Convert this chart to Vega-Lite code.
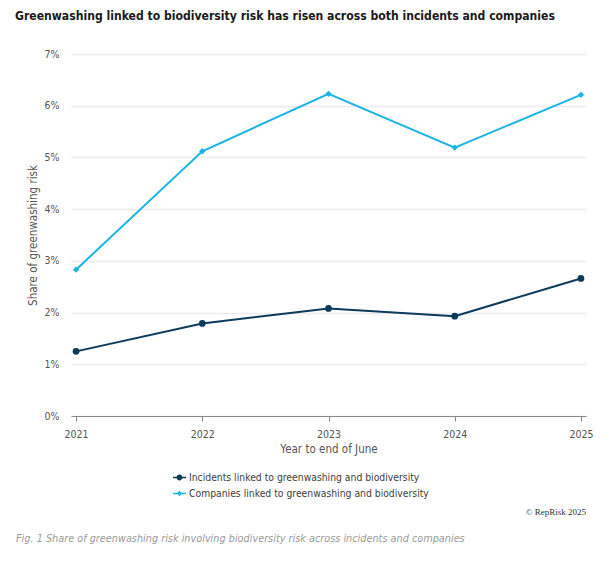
{
  "$schema": "https://vega.github.io/schema/vega-lite/v6.json",
  "background": "white",
  "padding": {"left": 15, "top": 9, "right": 5, "bottom": 5},
  "title": {
    "text": "Greenwashing linked to biodiversity risk has risen across both incidents and companies",
    "anchor": "start",
    "font": "DejaVu Sans Condensed",
    "fontSize": 12.1,
    "fontWeight": "bold",
    "color": "#1a1a1a",
    "offset": 27,
    "dx": -1
  },
  "data": {
    "values": [
      {"year": 2021, "series": "Incidents linked to greenwashing and biodiversity", "value": 0.0125},
      {"year": 2022, "series": "Incidents linked to greenwashing and biodiversity", "value": 0.0179},
      {"year": 2023, "series": "Incidents linked to greenwashing and biodiversity", "value": 0.0208},
      {"year": 2024, "series": "Incidents linked to greenwashing and biodiversity", "value": 0.0193},
      {"year": 2025, "series": "Incidents linked to greenwashing and biodiversity", "value": 0.0266},
      {"year": 2021, "series": "Companies linked to greenwashing and biodiversity", "value": 0.0283},
      {"year": 2022, "series": "Companies linked to greenwashing and biodiversity", "value": 0.0512},
      {"year": 2023, "series": "Companies linked to greenwashing and biodiversity", "value": 0.0623},
      {"year": 2024, "series": "Companies linked to greenwashing and biodiversity", "value": 0.0519},
      {"year": 2025, "series": "Companies linked to greenwashing and biodiversity", "value": 0.0621}
    ]
  },
  "vconcat": [
    {
      "title": {
        "text": "Fig. 1 Share of greenwashing risk involving biodiversity risk across incidents and companies",
        "orient": "bottom",
        "anchor": "start",
        "font": "DejaVu Sans Condensed",
        "fontStyle": "italic",
        "fontWeight": "normal",
        "fontSize": 10.8,
        "color": "#9a9a9a",
        "offset": 16,
        "dx": -11
      },
      "vconcat": [
        {
          "width": 515,
          "height": 362,
          "title": {
            "text": "© RepRisk 2025",
            "orient": "bottom",
            "anchor": "end",
            "frame": "group",
            "font": "Liberation Serif",
            "fontSize": 9,
            "fontWeight": "normal",
            "color": "#333333",
            "offset": 53
          },
          "encoding": {
            "x": {
              "field": "year",
              "type": "quantitative",
              "scale": {"domain": [2020.96, 2025.04], "nice": false, "zero": false},
              "axis": {
                "values": [2021, 2022, 2023, 2024, 2025],
                "format": "d",
                "title": "Year to end of June",
                "grid": false,
                "domainColor": "#888888",
                "tickColor": "#888888",
                "tickSize": 5,
                "labelPadding": 8,
                "titlePadding": 4
              }
            },
            "y": {
              "field": "value",
              "type": "quantitative",
              "scale": {"domain": [0, 0.07], "nice": false},
              "axis": {
                "values": [0, 0.01, 0.02, 0.03, 0.04, 0.05, 0.06, 0.07],
                "format": ".0%",
                "title": "Share of greenwashing risk",
                "domain": false,
                "ticks": false,
                "gridColor": "#ebebeb",
                "gridWidth": 1.5,
                "labelPadding": 12,
                "titlePadding": 6,
                "titleFontSize": 11.5
              }
            },
            "color": {
              "field": "series",
              "type": "nominal",
              "scale": {
                "domain": ["Incidents linked to greenwashing and biodiversity", "Companies linked to greenwashing and biodiversity"],
                "range": ["#0b3a5b", "#1ab4e6"]
              },
              "legend": {
                "title": null,
                "orient": "none",
                "legendX": 102,
                "legendY": 417,
                "direction": "vertical",
                "padding": 0,
                "symbolSize": 169,
                "symbolStrokeWidth": 0,
                "labelOffset": 3,
                "rowPadding": 4,
                "labelLimit": 0,
                "labelFontSize": 10.3,
                "labelColor": "#3d3d3d",
                "labelFont": "DejaVu Sans Condensed",
                "encode": {
                  "symbols": {
                    "update": {
                      "shape": {"signal": "datum.value === 'Incidents linked to greenwashing and biodiversity' ? 'M-1,-0.11L1,-0.11L1,0.11L-1,0.11Z M-0.45,0A0.45,0.45 0 1,1 0.45,0A0.45,0.45 0 1,1 -0.45,0Z' : 'M-1,-0.11L1,-0.11L1,0.11L-1,0.11Z M0,-0.42L0.42,0L0,0.42L-0.42,0Z'"},
                      "fill": {"scale": "color", "field": "value"},
                      "fillOpacity": {"value": 1},
                      "strokeWidth": {"value": 0}
                    }
                  }
                }
              }
            }
          },
          "layer": [
            {"mark": {"type": "line", "strokeWidth": 2}},
            {
              "transform": [{"filter": {"field": "series", "equal": "Incidents linked to greenwashing and biodiversity"}}],
              "mark": {"type": "point", "filled": true, "opacity": 1, "shape": "circle", "size": 45}
            },
            {
              "transform": [{"filter": {"field": "series", "equal": "Companies linked to greenwashing and biodiversity"}}],
              "mark": {"type": "point", "filled": true, "opacity": 1, "shape": "diamond", "size": 40}
            }
          ]
        }
      ]
    }
  ],
  "config": {
    "view": {"stroke": null},
    "font": "DejaVu Sans Condensed",
    "axis": {
      "labelFont": "DejaVu Sans Condensed",
      "labelFontSize": 10.5,
      "labelColor": "#555555",
      "titleFont": "DejaVu Sans Condensed",
      "titleFontSize": 11.5,
      "titleFontWeight": "normal",
      "titleColor": "#555555"
    }
  }
}
